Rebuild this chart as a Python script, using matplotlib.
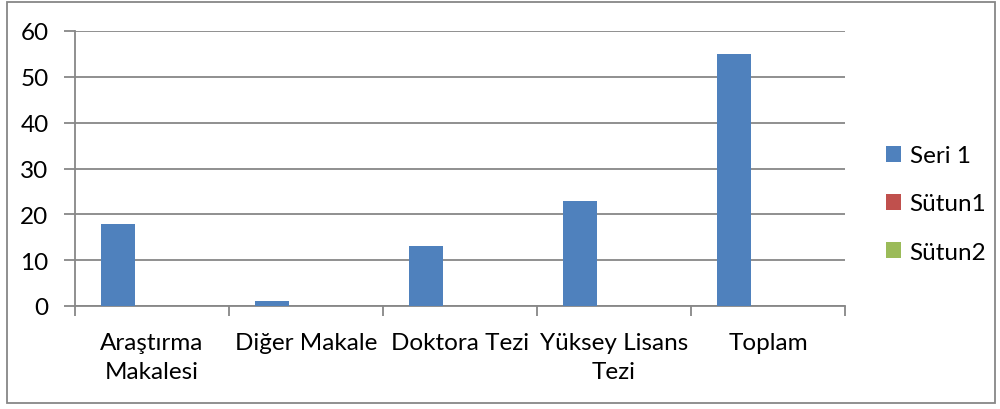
import matplotlib.pyplot as plt
import numpy as np
from matplotlib.patches import Rectangle

# chart data
categories = ["Araştırma\nMakalesi", "Diğer Makale", "Doktora Tezi", "Yüksey Lisans\nTezi", "Toplam"]
seri_1 = [18, 1, 13, 23, 55]
sutun_1 = [0, 0, 0, 0, 0]
sutun_2 = [0, 0, 0, 0, 0]
series_names = ["Seri 1", "Sütun1", "Sütun2"]
yticks = [0, 10, 20, 30, 40, 50, 60]

colors = ["#4F81BD", "#C0504D", "#9BBB59"]
grid_gray = "#878787"
fs = 17.5

plt.rcParams['font.family'] = ['Lato', 'DejaVu Sans']

fig = plt.figure(figsize=(10, 4.1), dpi=100)
ax = fig.add_axes([0.075, 1 - 307 / 410, 0.77, (307 - 32) / 410])

# outer chart frame
fig.patches.append(Rectangle((0.007, 6 / 410), 0.988, 401 / 410, transform=fig.transFigure,
                             fill=False, edgecolor=grid_gray, linewidth=1.3))

x = np.arange(len(categories)) + 0.5
w = 1 / 4.5
handles = []
for i, (vals, name) in enumerate(zip([seri_1, sutun_1, sutun_2], series_names)):
    b = ax.bar(x + (i - 1) * w, vals, width=w, color=colors[i], label=name, zorder=3)
    handles.append(b)

ax.set_xlim(0, len(categories))
ax.set_ylim(0, 60)
ax.set_yticks(yticks)
ax.set_yticklabels([str(v) for v in yticks])
ax.yaxis.grid(True, color=grid_gray, linewidth=1.3, zorder=0)

# category boundaries as major ticks, labels on minor ticks
ax.set_xticks(np.arange(len(categories) + 1))
ax.set_xticklabels([])
ax.set_xticks(x, minor=True)
ax.set_xticklabels(categories, minor=True, linespacing=1.45)
ax.tick_params(axis='x', which='major', length=7, width=1.3, color=grid_gray, direction='out')
ax.tick_params(axis='x', which='minor', length=0, pad=19, labelsize=fs)
ax.tick_params(axis='y', length=8, width=1.3, color=grid_gray, pad=11, labelsize=fs)

for s in ['top', 'right']:
    ax.spines[s].set_visible(False)
for s in ['left', 'bottom']:
    ax.spines[s].set_color(grid_gray)
    ax.spines[s].set_linewidth(1.3)
ax.set_axisbelow(True)

fig.legend(handles=handles, labels=series_names, loc='center left',
           bbox_to_anchor=(0.886, 1 - 205 / 410), frameon=False, fontsize=fs,
           handlelength=0.62, handleheight=0.62, handletextpad=0.35, labelspacing=1.12,
           borderpad=0, borderaxespad=0)

fig.savefig("out.png", dpi=100)
